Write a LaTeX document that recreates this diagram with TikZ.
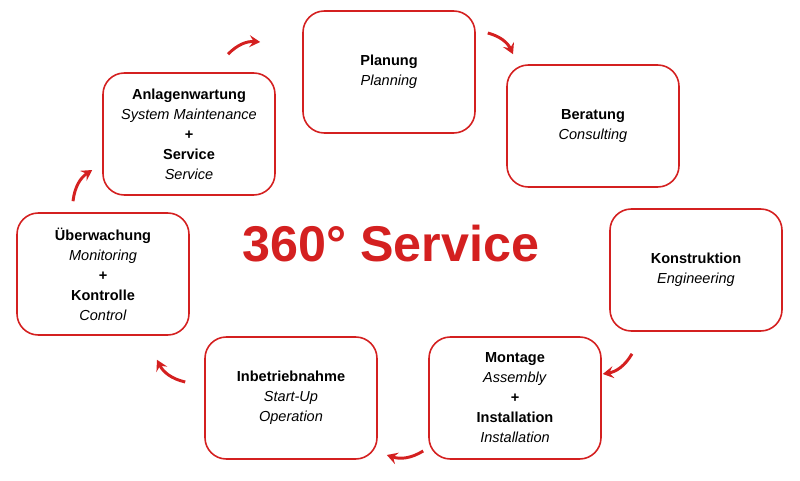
\documentclass[tikz,border=0pt]{standalone}
\usepackage{fontspec}
\setmainfont{Liberation Sans}
\usetikzlibrary{arrows.meta}
\definecolor{svred}{RGB}{212,32,32}

\begin{document}
\begin{tikzpicture}[x=0.75pt,y=-0.75pt,
  stage/.style={draw=svred,line width=1.2pt,rounded corners=16pt,
    minimum width=129pt,minimum height=91.5pt,align=center,
    font=\fontsize{10.9}{15}\selectfont},
  flow/.style={draw=svred,line width=2.2pt,-{Stealth[length=8pt,width=9pt,inset=3pt]},bend left=25}]
  \useasboundingbox (0,0) rectangle (800,481);
  % the seven stages
  \node[stage] (plan) at (389,72) {\textbf{Planung}\\\textit{Planning}};
  \node[stage] (bera) at (593,126) {\textbf{Beratung}\\\textit{Consulting}};
  \node[stage] (kons) at (696,270) {\textbf{Konstruktion}\\\textit{Engineering}};
  \node[stage] (mont) at (515,398) {\textbf{Montage}\\\textit{Assembly}\\\textbf{+}\\\textbf{Installation}\\\textit{Installation}};
  \node[stage] (inbe) at (291,398) {\textbf{Inbetriebnahme}\\\textit{Start-Up}\\\textit{Operation}};
  \node[stage] (ueber) at (103,274) {\textbf{Überwachung}\\\textit{Monitoring}\\\textbf{+}\\\textbf{Kontrolle}\\\textit{Control}};
  \node[stage] (wart) at (189,134) {\textbf{Anlagenwartung}\\\textit{System Maintenance}\\\textbf{+}\\\textbf{Service}\\\textit{Service}};
  % title
  \node[text=svred,font=\fontsize{37.7}{40}\selectfont\bfseries] (title) at (391,244) {360° Service};
  % arrows round the circle
  \draw[flow] ([shift={(39,-18)}]wart.north) to ([shift={(-42,-30)}]plan.west);
  \draw[flow] ([shift={(12,-39)}]plan.east) to ([shift={(-80,-10)}]bera.north);
  \draw[flow] ([shift={(-64,22)}]kons.south) to ([shift={(1,-24)}]mont.east);
  \draw[flow] ([shift={(-5,53)}]mont.west) to ([shift={(9,57)}]inbe.east);
  \draw[flow] ([shift={(-19,-16)}]inbe.west) to ([shift={(54,24)}]ueber.south);
  \draw[flow] ([shift={(-30,-11)}]ueber.north) to ([shift={(-10,36)}]wart.west);
\end{tikzpicture}
\end{document}
